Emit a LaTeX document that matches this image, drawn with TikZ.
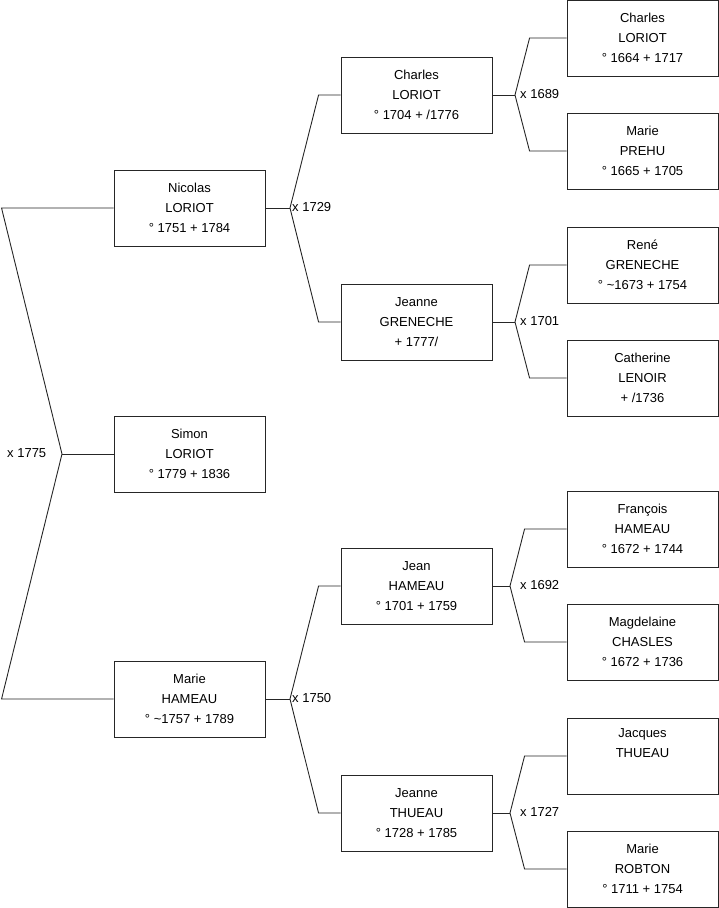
\documentclass[tikz,border=0pt]{standalone}
\usepackage{fontspec}
\setmainfont{Liberation Sans}
\usepackage{tikz}
\usetikzlibrary{positioning,calc}

\tikzset{
  personbox/.style={draw=black!85, line width=0.9pt, minimum width=151pt, minimum height=76pt,
    inner sep=0pt, align=center, font=\fontsize{13}{20}\selectfont},
  link/.style={draw=black!85, line width=0.9pt},
  wedlabel/.style={anchor=west, inner sep=0pt, font=\fontsize{13}{15}\selectfont}
}

\begin{document}
\begin{tikzpicture}[x=1pt,y=-1pt]
  \useasboundingbox (0,0) rectangle (719,908);
  % generation 1 and 2
  \node[personbox] (simon) at (189.5,454) {Simon\\LORIOT\\° 1779 + 1836};
  \node[personbox] (nicolas) at (189.5,208) {Nicolas\\LORIOT\\° 1751 + 1784};
  \node[personbox] (marieh) at (189.5,699) {Marie\\HAMEAU\\° \textasciitilde1757 + 1789};
  % generation 3
  \node[personbox] (charlesb) at (416.5,95) {Charles\\LORIOT\\° 1704 + /1776};
  \node[personbox] (jeanneg) at (416.5,322) {Jeanne\\GRENECHE\\+ 1777/};
  \node[personbox] (jean) at (416.5,586) {Jean\\HAMEAU\\° 1701 + 1759};
  \node[personbox] (jeannet) at (416.5,813) {Jeanne\\THUEAU\\° 1728 + 1785};
  % generation 4
  \node[personbox] (charlesa) at (642.5,38) {Charles\\LORIOT\\° 1664 + 1717};
  \node[personbox] (mariep) at (642.5,151) {Marie\\PREHU\\° 1665 + 1705};
  \node[personbox] (rene) at (642.5,265) {René\\GRENECHE\\° \textasciitilde1673 + 1754};
  \node[personbox] (catherine) at (642.5,378) {Catherine\\LENOIR\\+ /1736};
  \node[personbox] (francois) at (642.5,529) {François\\HAMEAU\\° 1672 + 1744};
  \node[personbox] (magdelaine) at (642.5,642) {Magdelaine\\CHASLES\\° 1672 + 1736};
  \node[personbox] (jacques) at (642.5,756) {Jacques\\THUEAU\\\strut};
  \node[personbox] (marier) at (642.5,869) {Marie\\ROBTON\\° 1711 + 1754};

  % marriage junctions
  \coordinate (w1) at (62,454);
  \coordinate (w2a) at (290,208);
  \coordinate (w2b) at (290,699);
  \coordinate (w3a) at (515,95);
  \coordinate (w3b) at (515,322);
  \coordinate (w3c) at (510,586);
  \coordinate (w3d) at (510,813);

  \draw[link] (nicolas.west) -- ([xshift=-112pt]nicolas.west) -- (w1) -- ([xshift=-112pt]marieh.west) -- (marieh.west);
  \draw[link] (w1) -- (simon.west);
  \node[wedlabel] (x1775) at (7,453) {x 1775};

  \draw[link] (nicolas.east) -- (w2a);
  \draw[link] (charlesb.west) -- ([xshift=-22pt]charlesb.west) -- (w2a) -- ([xshift=-22pt]jeanneg.west) -- (jeanneg.west);
  \node[wedlabel] (x1729) at (292,207) {x 1729};
  \draw[link] (marieh.east) -- (w2b);
  \draw[link] (jean.west) -- ([xshift=-22pt]jean.west) -- (w2b) -- ([xshift=-22pt]jeannet.west) -- (jeannet.west);
  \node[wedlabel] (x1750) at (292,698) {x 1750};

  \draw[link] (charlesb.east) -- (w3a);
  \draw[link] (charlesa.west) -- ([xshift=-37pt]charlesa.west) -- (w3a) -- ([xshift=-37pt]mariep.west) -- (mariep.west);
  \node[wedlabel] (x1689) at (520,94) {x 1689};
  \draw[link] (jeanneg.east) -- (w3b);
  \draw[link] (rene.west) -- ([xshift=-37pt]rene.west) -- (w3b) -- ([xshift=-37pt]catherine.west) -- (catherine.west);
  \node[wedlabel] (x1701) at (520,321) {x 1701};
  \draw[link] (jean.east) -- (w3c);
  \draw[link] (francois.west) -- ([xshift=-42pt]francois.west) -- (w3c) -- ([xshift=-42pt]magdelaine.west) -- (magdelaine.west);
  \node[wedlabel] (x1692) at (520,585) {x 1692};
  \draw[link] (jeannet.east) -- (w3d);
  \draw[link] (jacques.west) -- ([xshift=-42pt]jacques.west) -- (w3d) -- ([xshift=-42pt]marier.west) -- (marier.west);
  \node[wedlabel] (x1727) at (520,812) {x 1727};
\end{tikzpicture}
\end{document}
